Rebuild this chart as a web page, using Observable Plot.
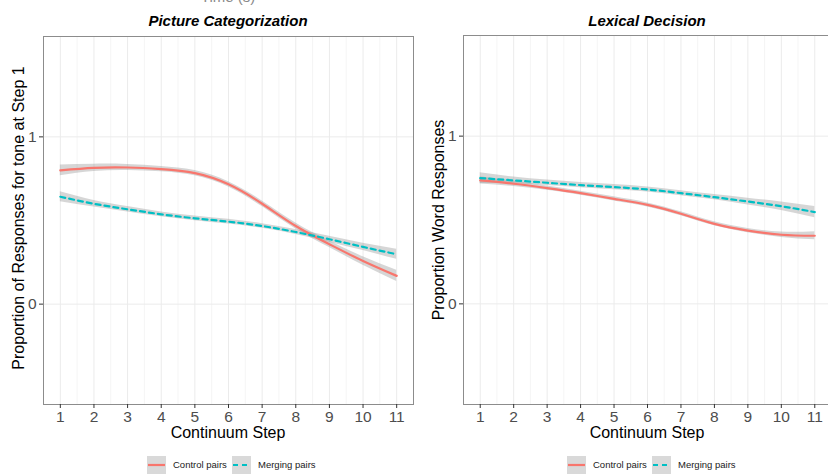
<!DOCTYPE html>
<html>
<head>
<meta charset="utf-8">
<script src="https://cdn.jsdelivr.net/npm/d3@7"></script>
<script src="https://cdn.jsdelivr.net/npm/@observablehq/plot@0.6"></script>
<style>
  html, body { margin: 0; padding: 0; background: #fff; overflow: hidden; }
  #root { position: relative; width: 828px; height: 474px; overflow: hidden; font-family: "Liberation Sans", Arial, sans-serif; }
  .abs { position: absolute; white-space: nowrap; }
  .title { font-weight: bold; font-style: italic; font-size: 15px; color: #000; }
  .axt { font-size: 16px; color: #000; }
  .leg { font-size: 9.5px; color: #1a1a1a; }
  .key { position: absolute; background: #d9d9d9; }
</style>
</head>
<body>
<div id="root"></div>
<script>
// ---- data ----
const steps = [1, 2, 3, 4, 5, 6, 7, 8, 9, 10, 11];
const gridMinor = [1.5, 2.5, 3.5, 4.5, 5.5, 6.5, 7.5, 8.5, 9.5, 10.5];
const yTicks = [0, 1];

// Picture Categorization
const picControl   = [0.800, 0.815, 0.817, 0.807, 0.783, 0.716, 0.600, 0.467, 0.358, 0.258, 0.169];
const picControlSe = [0.032, 0.022, 0.018, 0.016, 0.016, 0.016, 0.017, 0.018, 0.020, 0.025, 0.033];
const picMerging   = [0.642, 0.600, 0.567, 0.537, 0.513, 0.493, 0.467, 0.431, 0.388, 0.342, 0.298];
const picMergingSe = [0.030, 0.020, 0.016, 0.014, 0.014, 0.014, 0.014, 0.015, 0.018, 0.022, 0.030];

// Lexical Decision
const lexControl   = [0.736, 0.716, 0.690, 0.660, 0.626, 0.590, 0.537, 0.477, 0.437, 0.412, 0.406];
const lexControlSe = [0.022, 0.016, 0.013, 0.012, 0.012, 0.012, 0.012, 0.012, 0.013, 0.016, 0.024];
const lexMerging   = [0.750, 0.736, 0.722, 0.708, 0.696, 0.682, 0.660, 0.636, 0.610, 0.582, 0.547];
const lexMergingSe = [0.032, 0.020, 0.016, 0.015, 0.015, 0.015, 0.015, 0.016, 0.020, 0.025, 0.034];

const groups = ["Control pairs", "Merging pairs"];
const colors = ["#F8766D", "#00BFC4"];

function rows(vals, se, group) {
  return steps.map((s, i) => ({ step: s, y: vals[i], lo: vals[i] - se[i], hi: vals[i] + se[i], group }));
}

function panel(ctrl, ctrlSe, merg, mergSe, width, frameW, marginTop) {
  const c = rows(ctrl, ctrlSe, groups[0]);
  const m = rows(merg, mergSe, groups[1]);
  const fmt = d3.format("d");
  return Plot.plot({
    width, height: 430,
    marginLeft: 43, marginRight: width - 43 - frameW,
    marginTop, marginBottom: 26,
    style: { fontFamily: "Liberation Sans, Arial, sans-serif", background: "transparent", overflow: "visible" },
    x: { domain: [0.5, 11.5] },
    y: { domain: [-0.6, 1.6] },
    marks: [
      Plot.ruleX(gridMinor, { stroke: "#f2f2f2", strokeWidth: 0.8 }),
      Plot.ruleX(steps, { stroke: "#ebebeb", strokeWidth: 1 }),
      Plot.ruleY(yTicks, { stroke: "#ebebeb", strokeWidth: 1 }),
      Plot.areaY(c, { x: "step", y1: "lo", y2: "hi", fill: "#999999", fillOpacity: 0.4, curve: "natural" }),
      Plot.areaY(m, { x: "step", y1: "lo", y2: "hi", fill: "#999999", fillOpacity: 0.4, curve: "natural" }),
      Plot.line(c, { x: "step", y: "y", stroke: colors[0], strokeWidth: 2.2, curve: "natural" }),
      Plot.line(m, { x: "step", y: "y", stroke: colors[1], strokeWidth: 2.2, strokeDasharray: "5,4", curve: "natural" }),
      Plot.frame({ stroke: "#8c8c8c", strokeWidth: 1 }),
      Plot.axisX(steps, { tickSize: 4, tickPadding: 2, fontSize: 15.5, stroke: "#333333", fill: "#4d4d4d", tickFormat: fmt, label: null }),
      Plot.axisY(yTicks, { tickSize: 4, tickPadding: 3, fontSize: 15.5, stroke: "#333333", fill: "#4d4d4d", tickFormat: fmt, label: null })
    ]
  });
}

const root = document.getElementById("root");

function place(node, left, top) {
  node.style.position = "absolute";
  node.style.left = left + "px";
  node.style.top = top + "px";
  root.appendChild(node);
}

function text(str, cls, css) {
  const d = document.createElement("div");
  d.className = "abs " + cls;
  d.textContent = str;
  Object.assign(d.style, css);
  root.appendChild(d);
  return d;
}

place(panel(picControl, picControlSe, picMerging, picMergingSe, 420, 370, 36), 0, 0);
place(panel(lexControl, lexControlSe, lexMerging, lexMergingSe, 418, 368, 35), 420, 0);

// titles
text("Time (s)", "", { left: "228px", top: "-12px", transform: "translateX(-50%)", fontSize: "15px", color: "#8a8a8a" });
text("Picture Categorization", "title", { left: "228px", top: "12px", transform: "translateX(-50%)" });
text("Lexical Decision", "title", { left: "647px", top: "12px", transform: "translateX(-50%)" });

// axis titles
text("Continuum Step", "axt", { left: "228px", top: "424px", transform: "translateX(-50%)" });
text("Continuum Step", "axt", { left: "647px", top: "424px", transform: "translateX(-50%)" });
text("Proportion of Responses for tone at Step 1", "axt", { left: "19px", top: "218px", transform: "translate(-50%,-50%) rotate(-90deg)" });
text("Proportion Word Responses", "axt", { left: "439px", top: "220px", transform: "translate(-50%,-50%) rotate(-90deg)" });

// legends
function legend(x0) {
  const positions = [x0, x0 + 85];
  groups.forEach((g, i) => {
    const k = document.createElement("div");
    k.className = "key";
    Object.assign(k.style, { left: positions[i] + "px", top: "456px", width: "19px", height: "18px" });
    const svg = d3.create("svg").attr("width", 19).attr("height", 18);
    svg.append("line").attr("x1", 1).attr("x2", 18).attr("y1", 9).attr("y2", 9)
      .attr("stroke", colors[i]).attr("stroke-width", 2.2)
      .attr("stroke-dasharray", i === 1 ? "5,4" : null);
    k.appendChild(svg.node());
    root.appendChild(k);
    text(g, "leg", { left: (positions[i] + 26) + "px", top: "459px" });
  });
}
legend(147);
legend(567);
</script>
</body>
</html>
